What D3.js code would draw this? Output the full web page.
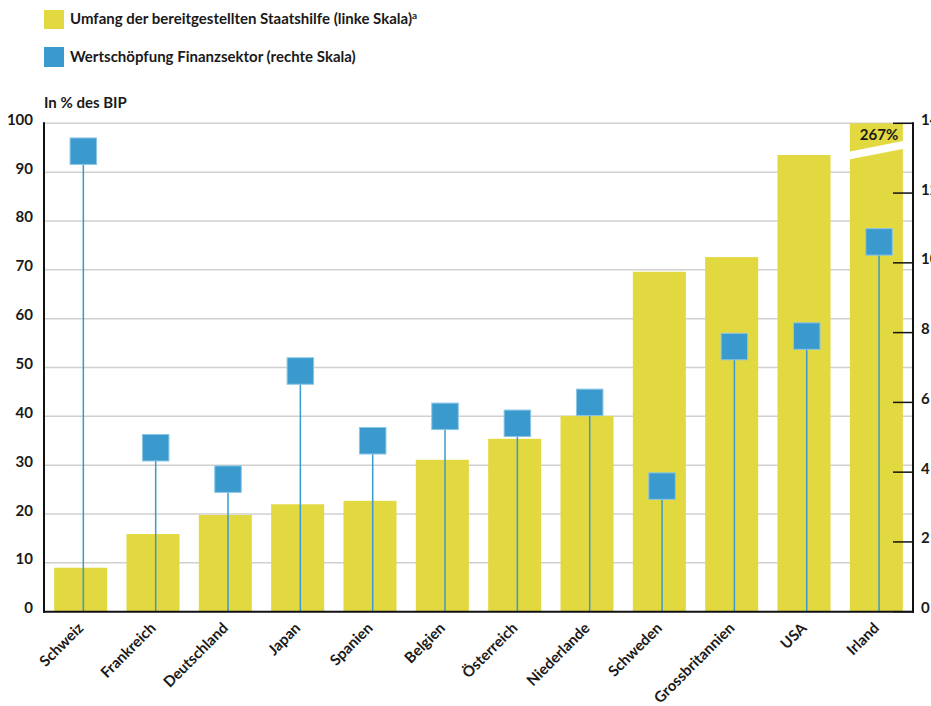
<!DOCTYPE html>
<meta charset="utf-8">
<html>
<head>
    <style>
        body { margin: 0; background: #fff; }
        text { font-family: Lato, "Open Sans", sans-serif; font-weight: bold; fill: #1a1a1a; font-size: 15px; }
        .grid line { stroke: #d0d0d0; stroke-width: 1.5px; }
        .axis-line { stroke: #111; stroke-width: 2px; }
        .tick-right { stroke: #111; stroke-width: 1.5px; }
        .bar { fill: #e2d840; }
        .stem { stroke: #3a9ace; stroke-width: 1.5px; }
        .marker { fill: #3a9ace; stroke: #8cc6e6; stroke-width: 1px; }
    </style>
    <script src="https://d3js.org/d3.v7.min.js"></script>
</head>
<body>
<svg id="svg" width="931" height="706"></svg>
<script>

    // data
    var countries = ["Schweiz", "Frankreich", "Deutschland", "Japan", "Spanien", "Belgien",
        "Österreich", "Niederlande", "Schweden", "Grossbritannien", "USA", "Irland"];
    var staatshilfe = [9.0, 15.9, 19.8, 22.0, 22.7, 31.1, 35.4, 40.1, 69.6, 72.6, 93.5, 267];
    var finanzsektor = [13.2, 4.7, 3.8, 6.9, 4.9, 5.6, 5.4, 6.0, 3.6, 7.6, 7.9, 10.6];
    var leftTicks = [0, 10, 20, 30, 40, 50, 60, 70, 80, 90, 100];
    var rightTicks = [0, 2, 4, 6, 8, 10, 12, 14];

    var svg = d3.select("svg"),
        plotLeft = 44, plotRight = 913, plotTop = 123.3, plotBottom = 611.7;

    var x = d3.scaleBand()
        .domain(countries)
        .range([plotLeft, plotRight])
        .paddingInner(0.267)
        .paddingOuter(0.14);

    var yL = d3.scaleLinear().domain([0, 100]).range([plotBottom, plotTop]);
    var yR = d3.scaleLinear().domain([0, 14]).range([plotBottom, plotTop]);

    var stemX = function (c) { return x(c) + x.bandwidth() / 2 + 2.7; };

    // legend
    var legend = svg.append("g");
    legend.append("rect").attr("x", 44).attr("y", 10).attr("width", 20).attr("height", 19).attr("class", "bar");
    var t1 = legend.append("text").attr("x", 70).attr("y", 24)
        .text("Umfang der bereitgestellten Staatshilfe (linke Skala)");
    t1.append("tspan").attr("dy", -5).style("font-size", "10px").text("a");
    legend.append("rect").attr("x", 44).attr("y", 47).attr("width", 20).attr("height", 20).attr("fill", "#3a9ace");
    legend.append("text").attr("x", 70).attr("y", 62)
        .text("Wertschöpfung Finanzsektor (rechte Skala)");

    svg.append("text").attr("x", 44).attr("y", 108).text("In % des BIP");

    // gridlines
    svg.append("g").attr("class", "grid")
        .selectAll("line")
        .data(leftTicks.slice(1))
        .enter().append("line")
        .attr("x1", plotLeft).attr("x2", plotRight)
        .attr("y1", function (d) { return yL(d); })
        .attr("y2", function (d) { return yL(d); });

    // bars (Irland runs off the scale)
    svg.append("g").selectAll("rect")
        .data(countries)
        .enter().append("rect")
        .attr("class", "bar")
        .attr("x", function (c) { return x(c); })
        .attr("width", x.bandwidth())
        .attr("y", function (c, i) { return yL(Math.min(staatshilfe[i], 100)); })
        .attr("height", function (c, i) { return yL(0) - yL(Math.min(staatshilfe[i], 100)); });

    // scale break on the Irland bar
    countries.forEach(function (c, i) {
        if (staatshilfe[i] <= 100) return;
        var bx = x(c), bw = x.bandwidth(), yt = yL(100);
        svg.append("polygon")
            .attr("fill", "#fff")
            .attr("points", [
                [bx - 1, yt + 28.5], [bx + bw + 1, yt + 17.5],
                [bx + bw + 1, yt + 25.5], [bx - 1, yt + 36.2]
            ].join(" "));
        svg.append("text")
            .attr("x", stemX(c)).attr("y", yt + 16.5)
            .attr("text-anchor", "middle")
            .text(staatshilfe[i] + "%");
    });

    // lollipops on the right scale
    var sq = 26.5;
    var lolli = svg.append("g").selectAll("g")
        .data(countries)
        .enter().append("g");
    lolli.append("line")
        .attr("class", "stem")
        .attr("x1", stemX).attr("x2", stemX)
        .attr("y1", function (c, i) { return yR(finanzsektor[i]); })
        .attr("y2", yR(0));
    lolli.append("rect")
        .attr("class", "marker")
        .attr("x", function (c) { return stemX(c) - sq / 2; })
        .attr("y", function (c, i) { return yR(finanzsektor[i]) - sq / 2; })
        .attr("width", sq).attr("height", sq);

    // left axis
    svg.append("line").attr("class", "axis-line")
        .attr("x1", plotLeft).attr("x2", plotLeft).attr("y1", plotTop - 1).attr("y2", plotBottom + 1);
    svg.append("g").selectAll("text")
        .data(leftTicks)
        .enter().append("text")
        .attr("x", 33).attr("y", function (d) { return yL(d) + 1.5; })
        .attr("text-anchor", "end")
        .text(function (d) { return d; });

    // right axis
    svg.append("line").attr("class", "axis-line")
        .attr("x1", plotRight).attr("x2", plotRight).attr("y1", plotTop - 1).attr("y2", plotBottom + 1);
    svg.append("g").selectAll("line")
        .data(rightTicks)
        .enter().append("line")
        .attr("class", "tick-right")
        .attr("x1", plotRight - 20).attr("x2", plotRight)
        .attr("y1", function (d) { return yR(d); })
        .attr("y2", function (d) { return yR(d); });
    svg.append("g").selectAll("text")
        .data(rightTicks)
        .enter().append("text")
        .attr("x", 921).attr("y", function (d) { return yR(d) + 1.5; })
        .text(function (d) { return d; });

    // baseline
    svg.append("line").attr("class", "axis-line")
        .attr("x1", plotLeft - 1).attr("x2", plotRight + 1).attr("y1", plotBottom).attr("y2", plotBottom);

    // country labels
    svg.append("g").selectAll("text")
        .data(countries)
        .enter().append("text")
        .attr("text-anchor", "end")
        .attr("transform", function (c) { return "translate(" + (stemX(c) + 1) + ",629) rotate(-45)"; })
        .text(function (c) { return c; });

</script>
</body>
</html>
